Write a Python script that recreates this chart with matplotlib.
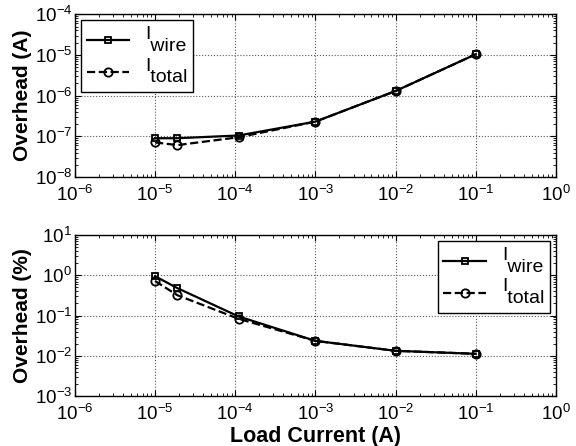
import matplotlib
matplotlib.use('Agg')
import matplotlib.pyplot as plt
from matplotlib.ticker import LogLocator, NullFormatter

plt.rcParams['font.family'] = ['Liberation Sans', 'DejaVu Sans']
plt.rcParams['mathtext.fontset'] = 'custom'
plt.rcParams['mathtext.rm'] = 'Liberation Sans'
plt.rcParams['mathtext.it'] = 'Liberation Sans'

# load current (A)
load = [1e-5, 1.9e-5, 1.1e-4, 1e-3, 1e-2, 1e-1]

# overhead in amps
wire_amp = [9.0e-8, 9.0e-8, 1.05e-7, 2.3e-7, 1.3e-6, 1.04e-5]
total_amp = [7.1e-8, 6.1e-8, 9.5e-8, 2.3e-7, 1.3e-6, 1.04e-5]

# overhead in percent
wire_pct = [0.95, 0.48, 0.095, 0.0235, 0.0133, 0.0112]
total_pct = [0.72, 0.32, 0.083, 0.0235, 0.0133, 0.0112]

# matlab style subscript: "I" then the subscript dropped below it
lbl_wire = 'I\n wire'
lbl_total = 'I\n total'

xdecades = [1e-6, 1e-5, 1e-4, 1e-3, 1e-2, 1e-1, 1e0]


def style_axis(ax, ylo, yhi, ydecades):
    ax.set_xscale('log')
    ax.set_yscale('log')
    ax.set_xticks(xdecades)
    ax.set_yticks(ydecades)
    ax.xaxis.set_minor_locator(LogLocator(base=10, subs=range(2, 10), numticks=10))
    ax.yaxis.set_minor_locator(LogLocator(base=10, subs=range(2, 10), numticks=10))
    ax.xaxis.set_minor_formatter(NullFormatter())
    ax.yaxis.set_minor_formatter(NullFormatter())
    ax.set_xlim(1e-6, 1e0)
    ax.set_ylim(ylo, yhi)
    ax.tick_params(which='both', direction='in', top=True, right=True, labelsize=13.5)
    ax.tick_params(which='major', length=4)
    ax.tick_params(which='minor', length=2)
    ax.tick_params(axis='x', which='major', pad=6)
    ax.tick_params(axis='y', which='major', pad=2)
    ax.grid(True, which='major', linestyle=':', color='0.35', linewidth=0.8)
    for s in ax.spines.values():
        s.set_linewidth(1.0)


fig = plt.figure(figsize=(5.76, 4.46), dpi=100)
ax1 = fig.add_axes([0.130, 0.603, 0.835, 0.365])
ax2 = fig.add_axes([0.130, 0.112, 0.835, 0.361])

for ax, w, t in ((ax1, wire_amp, total_amp), (ax2, wire_pct, total_pct)):
    ax.plot(load, w, 'k-s', lw=1.6, ms=5, mfc='none', mew=1.3, label=lbl_wire)
    ax.plot(load, t, 'k--o', lw=1.6, ms=6, mfc='none', mew=1.3, label=lbl_total)

style_axis(ax1, 1e-8, 1e-4, [1e-8, 1e-7, 1e-6, 1e-5, 1e-4])
style_axis(ax2, 1e-3, 1e1, [1e-3, 1e-2, 1e-1, 1e0, 1e1])

ax1.set_ylabel('Overhead (A)', fontsize=15, fontweight='bold', labelpad=2)
ax2.set_ylabel('Overhead (%)', fontsize=15, fontweight='bold', labelpad=2)
ax2.set_xlabel('Load Current (A)', fontsize=15.5, fontweight='bold', labelpad=1)

for ax, loc in ((ax1, 'upper left'), (ax2, 'upper right')):
    leg = ax.legend(loc=loc, fontsize=14, fancybox=False, framealpha=1,
                    edgecolor='k', handlelength=2.2, borderpad=0.3,
                    labelspacing=0.15, borderaxespad=0.3, handletextpad=0.8)
    leg.get_frame().set_linewidth(1.0)
    for t in leg.get_texts():
        t.set_linespacing(0.6)

fig.savefig('out.png', dpi=100)
